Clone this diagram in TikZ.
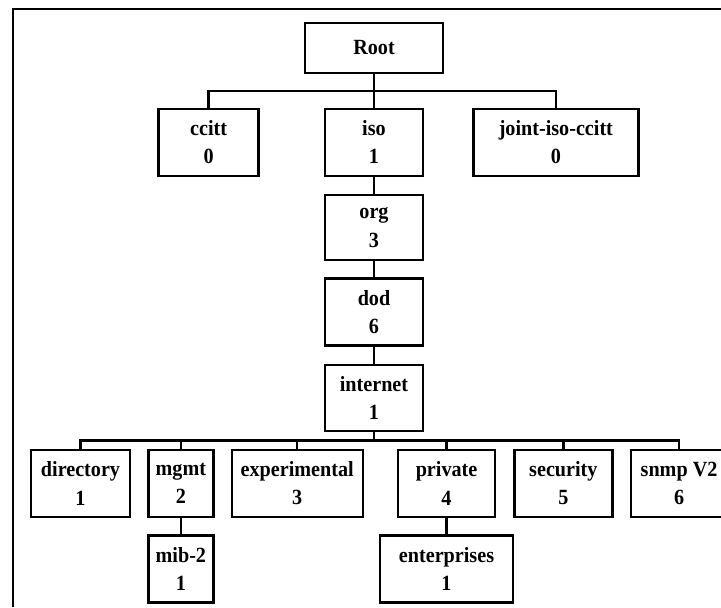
\documentclass[tikz,border=0pt]{standalone}
\usepackage{fontspec}
\setmainfont{Liberation Serif}[FakeStretch=0.93]
\usepackage{tikz}
\usetikzlibrary{calc, positioning}

\tikzset{
	box/.style={draw, line width=2pt, align=center, inner sep=0pt, minimum height=2.01cm,
		font=\bfseries\fontsize{18.5}{24}\selectfont},
	link/.style={line width=2pt}
}

\begin{document}
\begin{tikzpicture}[node distance=0.51cm]
	\useasboundingbox (0,0) rectangle (21.63,-18.21);

		% frame %
		\draw[link] (0.39,-18.21) |- (21.63,-0.27);

		% nodes - top of the tree %
		\node[box, minimum width=4.14cm, minimum height=1.5cm] (root) at (11.22,-1.44) {Root};
		\node[box, minimum width=2.94cm, below=1cm of root] (iso) {iso\\1};
		\node[box, minimum width=3.0cm, left=1.92cm of iso] (ccitt) {ccitt\\0};
		\node[box, minimum width=4.95cm, right=1.44cm of iso] (joint) {joint-iso-ccitt\\0};
		\node[box, minimum width=2.94cm, minimum height=1.95cm, below=of iso] (org) {org\\3};
		\node[box, minimum width=2.94cm, below=0.48cm of org] (dod) {dod\\6};
		\node[box, minimum width=2.94cm, minimum height=1.98cm, below=of dod] (internet) {internet\\1};

		% nodes - under internet %
		\node[box, minimum width=2.97cm] (directory) at (2.415,-14.505) {directory\\1};
		\node[box, minimum width=1.95cm, right=0.48cm of directory] (mgmt) {mgmt\\2};
		\node[box, minimum width=3.93cm, right=0.48cm of mgmt] (experimental) {experimental\\3};
		\node[box, minimum width=2.91cm, right=0.99cm of experimental] (private) {private\\4};
		\node[box, minimum width=2.94cm, right=0.51cm of private] (security) {security\\5};
		\node[box, minimum width=2.9cm, right=0.48cm of security] (snmp) {snmp V2\\6};
		\node[box, minimum width=1.95cm, below=0.48cm of mgmt] (mib) {mib-2\\1};
		\node[box, minimum width=3.99cm, below=0.48cm of private] (enterprises) {enterprises\\1};

		% bus levels %
		\coordinate (bus1) at ($(root.south)!0.5!(iso.north)$);
		\coordinate (bus2) at ($(internet.south)!0.5!(private.north)$);

		% edges %
		\draw[link] (root.south) -- (iso.north);
		\draw[link] (ccitt.north) |- (bus1) -| (joint.north);
		\draw[link] (iso) -- (org);
		\draw[link] (org) -- (dod);
		\draw[link] (dod) -- (internet);
		\draw[link] (internet.south) -- (internet.south |- bus2);
		\draw[link] (directory.north) |- (bus2) -| (snmp.north);
		\foreach \n in {mgmt, experimental, private, security}
			\draw[link] (\n.north) -- (\n.north |- bus2);
		\draw[link] (mgmt) -- (mib);
		\draw[link] (private) -- (enterprises);

\end{tikzpicture}
\end{document}
